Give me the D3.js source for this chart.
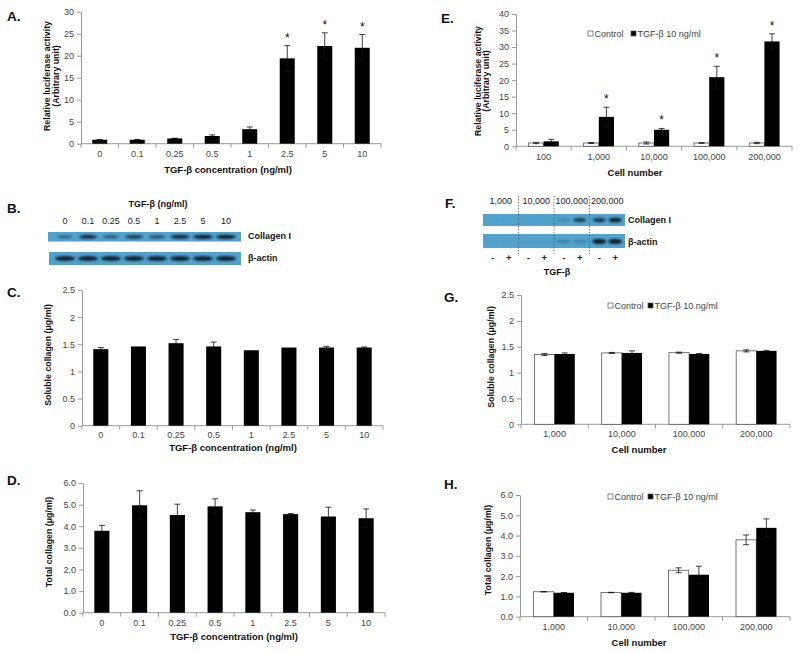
<!DOCTYPE html>
<html><head><meta charset="utf-8">
<script src="https://cdn.jsdelivr.net/npm/d3@7"></script>
<style>
body{margin:0;background:#fff;}
text{font-family:"Liberation Sans",Arial,sans-serif;}
</style></head>
<body>
<script>
// ---------- DATA ----------
const concLabels = ["0","0.1","0.25","0.5","1","2.5","5","10"];
const cellLabelsE = ["100","1,000","10,000","100,000","200,000"];
const cellLabelsGH = ["1,000","10,000","100,000","200,000"];
const seriesNames = ["Control","TGF-β 10 ng/ml"];

const ticksA = [0,5,10,15,20,25,30];
const ticksE = [0,5,10,15,20,25,30,35,40];
const ticksCG = [0,0.5,1,1.5,2,2.5];
const ticksDH = [0,1,2,3,4,5,6];

// A: relative luciferase activity
const lucA = [0.9,0.9,1.2,1.75,3.3,19.4,22.2,21.8];
const lucAErr = [0.05,0.05,0.05,0.25,0.5,2.9,3.0,3.0];
const starsA = [0,0,0,0,0,1,1,1];
// E
const lucEControl = [1.0,1.0,1.0,1.0,1.0];
const lucEControlErr = [0.2,0.15,0.3,0.1,0.2];
const lucETgf = [1.5,8.9,5.0,20.9,31.7];
const lucETgfErr = [0.6,2.9,0.4,3.3,2.3];
const starsE = [0,1,1,1,1];
// C: soluble collagen
const solC = [1.41,1.46,1.52,1.46,1.39,1.44,1.44,1.44];
const solCErr = [0.03,0.0,0.07,0.08,0.0,0.0,0.02,0.01];
// G
const solGControl = [1.35,1.38,1.385,1.42];
const solGControlErr = [0.02,0.01,0.01,0.02];
const solGTgf = [1.36,1.38,1.36,1.42];
const solGTgfErr = [0.02,0.04,0.01,0.01];
// D: total collagen
const totD = [3.79,4.97,4.52,4.92,4.65,4.56,4.45,4.37];
const totDErr = [0.25,0.67,0.5,0.35,0.1,0.03,0.43,0.43];
// H
const totHControl = [1.23,1.19,2.29,3.79];
const totHControlErr = [0.01,0.01,0.12,0.24];
const totHTgf = [1.18,1.18,2.07,4.38];
const totHTgfErr = [0.01,0.02,0.42,0.44];

// Blots (band intensity 0..1)
const blotBCollagen = [0.35,0.8,0.45,0.7,0.55,0.85,0.95,0.95];
const blotBActin = [1,1,1,1,1,1,1,1];
const blotFGroups = ["1,000","10,000","100,000","200,000"];
const blotFLanes = ["-","+","-","+","-","+","-","+"];
const blotFCollagen = [0.02,0.02,0.02,0.02,0.2,0.75,0.8,0.95];
const blotFActin = [0.04,0.04,0.04,0.04,0.3,0.25,1,1];

// ---------- DRAW ----------
const svg = d3.select("body").append("svg").attr("width",800).attr("height",653);
const AX = "#9a9a9a", TXT = "#444";

function letter(t,x,y){
  svg.append("text").attr("x",x).attr("y",y).attr("font-size",13.5).attr("font-weight","bold").attr("fill","#111").text(t);
}

function barChart(o){
  const g = svg.append("g");
  const y = d3.scaleLinear().domain([0,o.ymax]).range([o.zero,o.top]);
  const x = d3.scaleBand().domain(o.cats).range([o.left,o.right]).paddingInner(o.pad).paddingOuter(o.pad/2);
  const ns = o.series.length;
  const xs = d3.scaleBand().domain(d3.range(ns)).range([0,x.bandwidth()]);
  // y axis
  const ya = g.append("g").attr("transform",`translate(${o.left},0)`)
    .call(d3.axisLeft(y).tickValues(o.yticks).tickFormat(o.fmt).tickSize(4).tickSizeOuter(0).tickPadding(3));
  ya.select(".domain").attr("stroke",AX);
  ya.selectAll(".tick line").attr("stroke",AX);
  ya.selectAll(".tick text").attr("fill",TXT).attr("font-size",9).attr("font-family","Liberation Sans, Arial, sans-serif");
  // x axis line
  g.append("line").attr("x1",o.left).attr("x2",o.right).attr("y1",o.zero).attr("y2",o.zero).attr("stroke",AX);
  const half = (x.step()-x.bandwidth())/2;
  const bnds = o.cats.map(c=>x(c)-half).concat([x(o.cats[o.cats.length-1])+x.bandwidth()+half]);
  g.selectAll(".xt").data(bnds).enter().append("line")
    .attr("x1",d=>d).attr("x2",d=>d).attr("y1",o.zero).attr("y2",o.zero+4).attr("stroke",AX);
  g.selectAll(".xl").data(o.cats).enter().append("text")
    .attr("x",d=>x(d)+x.bandwidth()/2).attr("y",o.tickY).attr("text-anchor","middle")
    .attr("font-size",9).attr("fill",TXT).text(d=>d);
  // bars
  o.series.forEach((s,si)=>{
    const bw = xs.bandwidth();
    g.selectAll(".b"+si).data(s.values).enter().append("rect")
      .attr("x",(d,i)=>x(o.cats[i])+xs(si)).attr("width",bw)
      .attr("y",d=>y(d)).attr("height",d=>o.zero-y(d))
      .attr("fill",s.fill).attr("stroke",s.stroke||"none").attr("stroke-width",0.8);
    // error bars
    s.values.forEach((v,i)=>{
      const e = s.errs[i]; if(!e) return;
      const cx = x(o.cats[i])+xs(si)+bw/2;
      const yt = y(v+e), yb = y(Math.max(0,v-e));
      g.append("line").attr("x1",cx).attr("x2",cx).attr("y1",yt).attr("y2",yb).attr("stroke","#111").attr("stroke-width",0.8);
      [yt,yb].forEach(yy=>g.append("line").attr("x1",cx-3).attr("x2",cx+3).attr("y1",yy).attr("y2",yy).attr("stroke","#111").attr("stroke-width",0.8));
    });
    if(s.stars){
      s.stars.forEach((st,i)=>{
        if(!st) return;
        const cx = x(o.cats[i])+xs(si)+bw/2;
        g.append("text").attr("x",cx).attr("y",y(s.values[i]+s.errs[i])-4).attr("text-anchor","middle")
          .attr("font-size",12).attr("fill","#111").text("*");
      });
    }
  });
  // axis titles
  g.append("text").attr("x",o.xTitleX).attr("y",o.xTitleY).attr("text-anchor","middle")
    .attr("font-size",o.xTitleSize||9.5).attr("font-weight","bold").attr("fill","#111").text(o.xTitle);
  o.yTitle.forEach((t,i)=>{
    g.append("text").attr("transform",`translate(${o.yTitleX[i]},${o.yTitleY}) rotate(-90)`)
      .attr("text-anchor","middle").attr("font-size",8.8).attr("font-weight","bold").attr("fill","#111").text(t);
  });
  // legend
  if(o.legend){
    const [lx,ly] = o.legend;
    const items = [{n:seriesNames[0],f:"#fff",x:lx},{n:seriesNames[1],f:"#000",x:lx+o.legendGap}];
    items.forEach(it=>{
      g.append("rect").attr("x",it.x).attr("y",ly-3).attr("width",5).attr("height",5).attr("fill",it.f).attr("stroke","#555").attr("stroke-width",0.7);
      g.append("text").attr("x",it.x+6.5).attr("y",ly+2.8).attr("font-size",9).attr("fill",TXT).text(it.n);
    });
  }
}

// Panel A
letter("A.",7,21);
barChart({left:81,right:381,top:11.7,zero:143.7,ymax:30,yticks:ticksA,fmt:d3.format("d"),cats:concLabels,pad:0.6,
  series:[{values:lucA,errs:lucAErr,fill:"#000",stars:starsA}],
  tickY:157,xTitle:"TGF-β concentration (ng/ml)",xTitleX:228,xTitleY:172.5,
  yTitle:["Relative luciferase activity","(Arbitrary unit)"],yTitleX:[50,59],yTitleY:76});

// Panel E
letter("E.",441,23);
barChart({left:516,right:792,top:14,zero:146.3,ymax:40,yticks:ticksE,fmt:d3.format("d"),cats:cellLabelsE,pad:0.45,
  series:[{values:lucEControl,errs:lucEControlErr,fill:"#fff",stroke:"#555"},
          {values:lucETgf,errs:lucETgfErr,fill:"#000",stars:starsE}],
  tickY:160,xTitle:"Cell number",xTitleX:635,xTitleY:176,
  yTitle:["Relative luciferase activity","(Arbitrary unit)"],yTitleX:[481,489],yTitleY:81,
  legend:[588,34],legendGap:43});

// Panel C
letter("C.",7,297);
barChart({left:82,right:383,top:290,zero:425.7,ymax:2.5,yticks:ticksCG,fmt:d3.format("~g"),cats:concLabels,pad:0.6,
  series:[{values:solC,errs:solCErr,fill:"#000"}],
  tickY:438,xTitle:"TGF-β concentration (ng/ml)",xTitleX:233,xTitleY:451,
  yTitle:["Soluble collagen (μg/ml)"],yTitleX:[51],yTitleY:355});

// Panel G
letter("G.",444,302);
barChart({left:521,right:790,top:295,zero:424.3,ymax:2.5,yticks:ticksCG,fmt:d3.format("~g"),cats:cellLabelsGH,pad:0.4,
  series:[{values:solGControl,errs:solGControlErr,fill:"#fff",stroke:"#555"},
          {values:solGTgf,errs:solGTgfErr,fill:"#000"}],
  tickY:437,xTitle:"Cell number",xTitleX:639,xTitleY:452.5,
  yTitle:["Soluble collagen (μg/ml)"],yTitleX:[494],yTitleY:357,
  legend:[608,306],legendGap:40});

// Panel D
letter("D.",7,485);
barChart({left:83,right:385,top:483,zero:612.7,ymax:6,yticks:ticksDH,fmt:d3.format(".1f"),cats:concLabels,pad:0.6,
  series:[{values:totD,errs:totDErr,fill:"#000"}],
  tickY:626,xTitle:"TGF-β concentration (ng/ml)",xTitleX:234,xTitleY:639.5,
  yTitle:["Total collagen (μg/ml)"],yTitleX:[52],yTitleY:542});

// Panel H
letter("H.",444,489);
barChart({left:520,right:790,top:495,zero:616.7,ymax:6,yticks:ticksDH,fmt:d3.format(".1f"),cats:cellLabelsGH,pad:0.4,
  series:[{values:totHControl,errs:totHControlErr,fill:"#fff",stroke:"#555"},
          {values:totHTgf,errs:totHTgfErr,fill:"#000"}],
  tickY:630,xTitle:"Cell number",xTitleX:639,xTitleY:645.5,
  yTitle:["Total collagen (μg/ml)"],yTitleX:[491],yTitleY:550,
  legend:[608,497],legendGap:40});

// ---------- Blots ----------
const defs = svg.append("defs");
defs.append("filter").attr("id","blur").attr("x","-50%").attr("y","-100%").attr("width","200%").attr("height","300%")
  .append("feGaussianBlur").attr("stdDeviation",0.9);
const BLUE = "#51a2cc", BAND = "#0d1b2a";

// Panel B
letter("B.",7,213);
const laneB = d3.scalePoint().domain(concLabels).range([65,226]);
svg.append("text").attr("x",158).attr("y",207).attr("text-anchor","middle").attr("font-size",9).attr("font-weight","bold").attr("fill","#111").text("TGF-β (ng/ml)");
svg.selectAll(".lb").data(concLabels).enter().append("text").attr("x",d=>laneB(d)).attr("y",224)
  .attr("text-anchor","middle").attr("font-size",9).attr("fill","#222").text(d=>d);
svg.append("rect").attr("x",48).attr("y",232).attr("width",193).attr("height",9.5).attr("fill",BLUE);
svg.append("rect").attr("x",49).attr("y",252).attr("width",192).attr("height",13).attr("fill",BLUE);
svg.append("g").attr("filter","url(#blur)").selectAll("ellipse").data(blotBCollagen).enter().append("ellipse")
  .attr("cx",(d,i)=>laneB(concLabels[i])).attr("cy",236.8).attr("rx",d=>6+4*d).attr("ry",d=>1+1.2*d)
  .attr("fill",BAND).attr("opacity",d=>0.25+0.75*d);
svg.append("g").attr("filter","url(#blur)").selectAll("ellipse").data(blotBActin).enter().append("ellipse")
  .attr("cx",(d,i)=>laneB(concLabels[i])).attr("cy",258.5).attr("rx",10).attr("ry",2.6)
  .attr("fill",BAND).attr("opacity",d=>0.95*d);
svg.append("text").attr("x",248).attr("y",238.5).attr("font-size",9).attr("font-weight","bold").attr("fill","#111").text("Collagen I");
svg.append("text").attr("x",248).attr("y",261).attr("font-size",9).attr("font-weight","bold").attr("fill","#111").text("β-actin");

// Panel F
letter("F.",445,208);
const grpF = d3.scaleBand().domain(blotFGroups).range([483,625]);
const laneF = (i)=>grpF(blotFGroups[Math.floor(i/2)])+grpF.bandwidth()/2+(i%2===0?-8:8);
svg.selectAll(".gf").data(blotFGroups).enter().append("text").attr("x",d=>grpF(d)+grpF.bandwidth()/2).attr("y",204)
  .attr("text-anchor","middle").attr("font-size",9).attr("fill","#222").text(d=>d);
svg.append("rect").attr("x",483).attr("y",214).attr("width",142).attr("height",12).attr("fill",BLUE);
svg.append("rect").attr("x",483).attr("y",234).attr("width",142).attr("height",14).attr("fill",BLUE);
svg.append("g").attr("filter","url(#blur)").selectAll("ellipse").data(blotFCollagen).enter().append("ellipse")
  .attr("cx",(d,i)=>laneF(i)).attr("cy",220).attr("rx",6.5).attr("ry",d=>1+1.4*d)
  .attr("fill",BAND).attr("opacity",d=>d);
svg.append("g").attr("filter","url(#blur)").selectAll("ellipse").data(blotFActin).enter().append("ellipse")
  .attr("cx",(d,i)=>laneF(i)).attr("cy",241.5).attr("rx",7).attr("ry",d=>1+1.4*d)
  .attr("fill",BAND).attr("opacity",d=>d);
svg.selectAll(".dv").data(blotFGroups.slice(1)).enter().append("line")
  .attr("x1",d=>grpF(d)).attr("x2",d=>grpF(d)).attr("y1",196).attr("y2",254)
  .attr("stroke","#555").attr("stroke-width",0.8).attr("stroke-dasharray","1.5,1.5");
svg.selectAll(".pm").data(blotFLanes).enter().append("text").attr("x",(d,i)=>laneF(i)).attr("y",261)
  .attr("text-anchor","middle").attr("font-size",9.5).attr("font-weight","bold").attr("fill","#222").text(d=>d);
svg.append("text").attr("x",557).attr("y",275).attr("text-anchor","middle").attr("font-size",9).attr("font-weight","bold").attr("fill","#111").text("TGF-β");
svg.append("text").attr("x",628).attr("y",223).attr("font-size",9).attr("font-weight","bold").attr("fill","#111").text("Collagen I");
svg.append("text").attr("x",628).attr("y",245).attr("font-size",9).attr("font-weight","bold").attr("fill","#111").text("β-actin");
</script>
</body></html>
